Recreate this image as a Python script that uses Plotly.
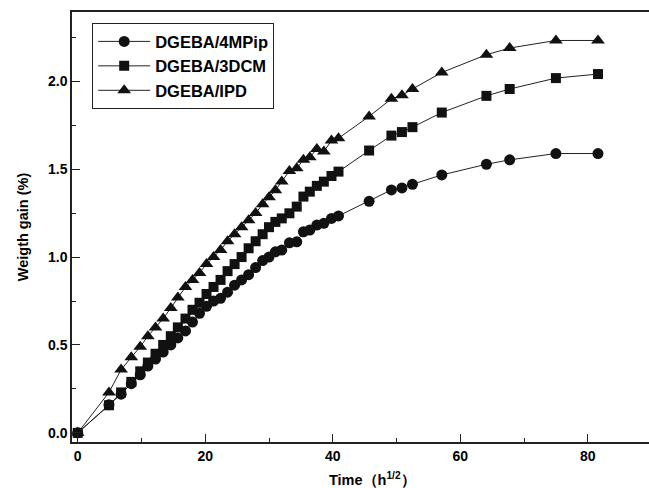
import plotly.graph_objects as go

time = [0, 4.9, 6.8, 8.4, 9.8, 11.0, 12.2, 13.4, 14.6, 15.7, 16.9, 18.0, 19.1, 20.2,
        21.3, 22.4, 23.5, 24.6, 25.7, 26.8, 27.9, 29.0, 30.0, 31.0, 32.0, 33.2, 34.35,
        35.4, 36.4, 37.5, 38.6, 39.8, 40.9, 45.7, 49.2, 50.85, 52.5, 57.1, 64.1, 67.75,
        75.0, 81.6]

mpip = [0, 0.16, 0.22, 0.28, 0.33, 0.38, 0.42, 0.46, 0.50, 0.54, 0.58, 0.63, 0.68, 0.72,
        0.75, 0.765, 0.80, 0.84, 0.87, 0.90, 0.94, 0.98, 1.00, 1.03, 1.04, 1.081, 1.087,
        1.144, 1.154, 1.182, 1.192, 1.220, 1.234, 1.317, 1.382, 1.393, 1.414, 1.467, 1.528,
        1.553, 1.589, 1.589]

dcm = [0, 0.157, 0.23, 0.29, 0.35, 0.40, 0.45, 0.50, 0.55, 0.60, 0.65, 0.70, 0.74, 0.79,
       0.83, 0.87, 0.92, 0.96, 1.00, 1.05, 1.09, 1.13, 1.17, 1.20, 1.22, 1.249, 1.287,
       1.344, 1.372, 1.405, 1.429, 1.461, 1.486, 1.606, 1.691, 1.711, 1.739, 1.822, 1.917,
       1.956, 2.018, 2.041]

ipd = [0, 0.23, 0.36, 0.43, 0.49, 0.55, 0.60, 0.65, 0.71, 0.77, 0.83, 0.87, 0.91, 0.96,
       1.00, 1.04, 1.09, 1.13, 1.17, 1.21, 1.25, 1.30, 1.34, 1.38, 1.43, 1.49, 1.505,
       1.553, 1.568, 1.615, 1.600, 1.663, 1.676, 1.80, 1.90, 1.92, 1.956, 2.05, 2.151,
       2.189, 2.232, 2.232]

names = ["DGEBA/4MPip", "DGEBA/3DCM", "DGEBA/IPD"]
symbols = ["circle", "square", "triangle-up"]
sizes = [11, 10, 12]

fig = go.Figure()
for name, ys, sym, sz in zip(names, [mpip, dcm, ipd], symbols, sizes):
    fig.add_trace(go.Scatter(
        x=time, y=ys, name=name, mode="lines+markers",
        line=dict(color="#222222", width=1),
        marker=dict(symbol=sym, size=sz, color="#111111"),
    ))

font_fam = "Liberation Sans, Arial, sans-serif"
fig.update_layout(
    width=649, height=488,
    margin=dict(l=72, r=0, t=12, b=46),
    plot_bgcolor="white", paper_bgcolor="white",
    font=dict(family=font_fam, color="black", size=13, weight="bold"),
    showlegend=True,
    legend=dict(
        x=0.035, y=0.974, xanchor="left", yanchor="top",
        bgcolor="white", bordercolor="#222222", borderwidth=1,
        font=dict(size=16.5, family=font_fam, weight="bold"),
        tracegroupgap=0, itemwidth=52,
    ),
    xaxis=dict(
        range=[-0.9, 89.6], showgrid=False, zeroline=False, automargin=False,
        showline=True, linecolor="#222222", linewidth=1.5, mirror=True,
        ticks="inside", ticklen=8, tickwidth=1.2, tickcolor="#222222",
        tickvals=[0, 20, 40, 60, 80],
        minor=dict(tickvals=[10, 30, 50, 70], ticks="inside", ticklen=4,
                   tickwidth=1.2, tickcolor="#222222"),
        tickfont=dict(size=14, family=font_fam, weight="bold"),
    ),
    yaxis=dict(
        range=[-0.052, 2.394], showgrid=False, zeroline=False, automargin=False,
        showline=True, linecolor="#222222", linewidth=1.5, mirror=False,
        ticks="inside", ticklen=8, tickwidth=1.2, tickcolor="#222222",
        tickvals=[0, 0.5, 1.0, 1.5, 2.0], ticktext=["0.0", "0.5", "1.0", "1.5", "2.0"],
        minor=dict(tickvals=[0.25, 0.75, 1.25, 1.75, 2.25], ticks="inside", ticklen=4,
                   tickwidth=1.2, tickcolor="#222222"),
        tickfont=dict(size=14, family=font_fam, weight="bold"),
        title=dict(text="Weigth gain (%)", standoff=16,
                   font=dict(size=14.5, family=font_fam, weight="bold")),
    ),
    annotations=[dict(
        text="Time（h<sup>1/2</sup>）", xref="paper", yref="paper",
        x=0.52, y=-0.085, xanchor="center", yanchor="middle", showarrow=False,
        font=dict(size=14.5, family=font_fam, weight="bold", color="black"),
    )],
)

fig.write_html("out.html", config={"displayModeBar": False},
               post_script="document.body.style.margin='0';")
